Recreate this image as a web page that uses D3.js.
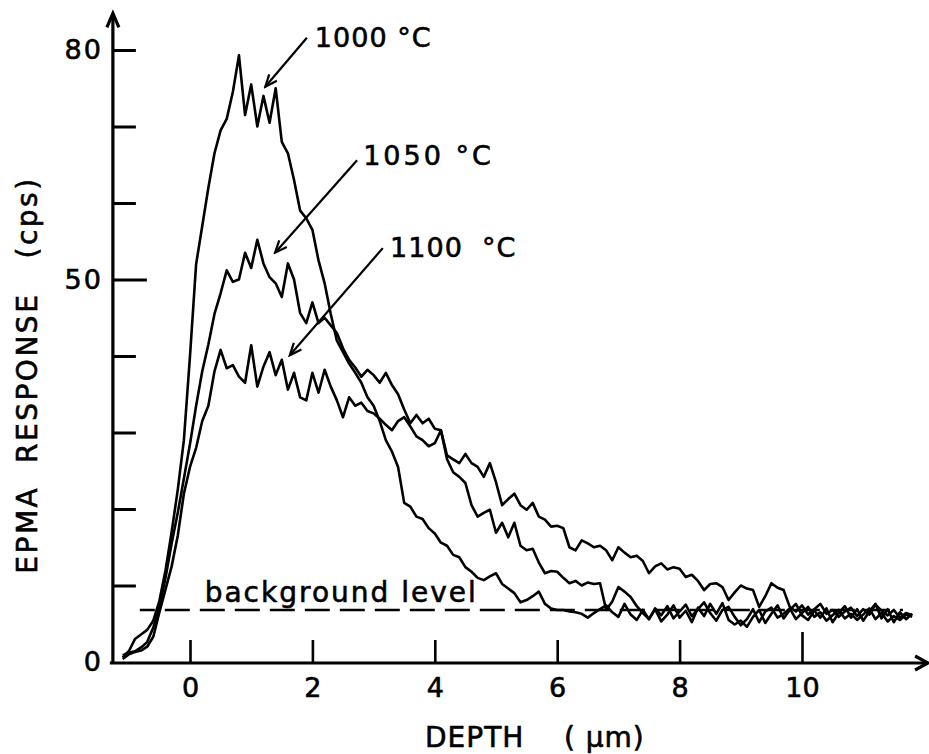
<!DOCTYPE html>
<html>
<head>
<meta charset="utf-8">
<script src="https://cdn.jsdelivr.net/npm/d3@7"></script>
<style>
  body { margin: 0; background: #fff; }
  svg text { font-family: "DejaVu Sans", sans-serif; fill: #000; stroke: #000; stroke-width: 0.6; }
  .axis-line { stroke: #000; stroke-width: 3.2; fill: none; }
  .curve { stroke: #000; stroke-width: 2.6; fill: none; stroke-linejoin: round; }
</style>
</head>
<body>
<div id="chart"></div>
<script>
// depth (um), sampled every 0.1
const depth = [
  -1.1, -1.0, -0.9, -0.8, -0.7, -0.6, -0.5, -0.4, -0.3, -0.2, -0.1,
  0.0, 0.1, 0.2, 0.3, 0.4, 0.5, 0.6, 0.7, 0.8, 0.9,
  1.0, 1.1, 1.2, 1.3, 1.4, 1.5, 1.6, 1.7, 1.8, 1.9,
  2.0, 2.1, 2.2, 2.3, 2.4, 2.5, 2.6, 2.7, 2.8, 2.9,
  3.0, 3.1, 3.2, 3.3, 3.4, 3.5, 3.6, 3.7, 3.8, 3.9,
  4.0, 4.1, 4.2, 4.3, 4.4, 4.5, 4.6, 4.7, 4.8, 4.9,
  5.0, 5.1, 5.2, 5.3, 5.4, 5.5, 5.6, 5.7, 5.8, 5.9,
  6.0, 6.1, 6.2, 6.3, 6.4, 6.5, 6.6, 6.7, 6.8, 6.9,
  7.0, 7.1, 7.2, 7.3, 7.4, 7.5, 7.6, 7.7, 7.8, 7.9,
  8.0, 8.1, 8.2, 8.3, 8.4, 8.5, 8.6, 8.7, 8.8, 8.9,
  9.0, 9.1, 9.2, 9.3, 9.4, 9.5, 9.6, 9.7, 9.8, 9.9,
  10.0, 10.1, 10.2, 10.3, 10.4, 10.5, 10.6, 10.7, 10.8, 10.9,
  11.0, 11.1, 11.2, 11.3, 11.4, 11.5, 11.6, 11.7, 11.8
];

// EPMA response (cps)
const resp1000 = [
  0.6, 1.4, 3.0, 3.6, 4.2, 5.4, 8.0, 12.0, 17.0, 22.5, 29.0,
  40.0, 52.0, 57.0, 62.0, 66.5, 69.5, 71.0, 74.5, 79.3, 71.5,
  75.5, 70.0, 74.0, 70.5, 75.0, 68.0, 66.5, 63.0, 59.0, 58.0,
  56.5, 52.5, 49.5, 45.5, 42.0, 40.5, 39.0, 37.8, 36.5, 34.6,
  33.5, 31.5, 29.0, 27.5, 25.5, 20.8, 20.3, 19.0, 18.7, 17.5,
  16.8, 15.6, 15.2, 14.0, 13.7, 12.4, 11.8, 11.0, 10.7, 11.2,
  11.6, 10.2, 9.6, 9.0, 7.8, 8.1, 8.6, 9.2, 7.6, 7.0,
  6.8, 6.8, 6.6, 6.5, 6.3, 5.8, 6.4, 6.9, 7.4, 6.5,
  5.9, 7.6, 6.2, 5.5, 6.8, 5.6, 7.0, 6.1, 7.3, 5.7,
  6.6, 7.5, 6.0, 6.9, 7.8, 6.4, 5.4, 6.8, 7.2, 5.9,
  4.8, 5.6, 6.9, 5.2, 6.6, 7.1, 5.8, 6.3, 7.0, 5.6,
  6.4, 7.2, 5.9, 6.5, 5.4, 6.1, 6.8, 5.7, 6.3, 5.5,
  6.2, 7.0, 5.6, 6.4, 5.3, 6.0, 5.5, 6.2, 5.9
];
const resp1050 = [
  0.9, 1.2, 1.4, 1.9, 2.6, 4.5, 7.2, 11.0, 15.5, 19.5, 24.0,
  28.5, 33.5, 38.0, 41.5, 45.5, 48.2, 51.2, 49.7, 50.0, 53.5,
  51.5, 55.2, 52.1, 50.3, 49.5, 47.7, 52.1, 50.0, 45.6, 44.3,
  47.0, 44.3, 45.0, 44.0, 43.0, 41.0, 39.5, 38.5, 37.3, 38.2,
  37.5, 36.5, 37.8, 36.2, 35.0, 33.0, 31.2, 32.3, 31.2, 31.8,
  30.5, 30.3, 27.0, 26.5, 26.0, 27.2, 26.0, 25.5, 24.2, 26.0,
  23.5, 20.5, 21.3, 22.0, 20.5, 19.9, 20.8, 19.0, 18.6, 17.7,
  17.8, 17.5, 15.0, 14.6, 15.9, 15.5, 15.0, 15.2, 14.6, 13.3,
  15.0, 14.3, 13.7, 13.9, 13.2, 11.6, 12.5, 12.9, 12.1, 12.4,
  12.2, 11.1, 11.4, 10.6, 9.4, 10.2, 10.3, 9.8, 8.1, 9.1,
  10.0, 9.6, 9.4, 7.2, 8.6, 10.3, 9.7, 9.4, 7.2, 6.6,
  7.4, 6.2, 6.9, 7.6, 6.3, 6.8, 5.9, 6.6, 7.1, 6.0,
  6.9, 6.2, 7.5, 6.7, 6.1, 6.8, 5.8, 6.4, 6.1
];
const resp1100 = [
  0.4, 1.0, 1.3, 1.5, 2.0, 3.3, 6.5, 9.5, 12.5, 16.5, 22.0,
  25.5, 28.0, 31.5, 33.5, 38.0, 40.8, 38.4, 38.8, 37.3, 36.5,
  41.4, 36.0, 38.6, 40.5, 37.5, 39.5, 35.6, 37.8, 34.6, 34.2,
  37.8, 35.2, 38.2, 36.0, 34.2, 32.0, 34.6, 33.5, 33.9, 32.8,
  32.5, 31.8, 31.0, 30.3, 31.5, 32.0, 30.8, 29.5, 29.0, 28.2,
  28.6, 30.3, 26.5, 24.8, 24.2, 23.4, 20.5, 19.0, 19.5, 19.9,
  16.9, 18.2, 16.3, 18.2, 15.2, 14.6, 14.8, 13.0, 11.6, 11.9,
  11.8, 11.0, 10.3, 10.6, 10.0, 10.4, 10.2, 10.3, 6.8, 7.9,
  9.8, 9.2, 8.5, 7.3, 6.4, 5.6, 6.9, 5.3, 6.2, 7.4,
  5.8, 6.7, 5.2, 7.1, 6.0, 7.6, 6.3, 7.7, 5.5, 4.9,
  5.4, 4.6, 5.9, 6.8, 5.1, 6.3, 7.4, 5.7, 6.8, 7.6,
  6.1, 5.5, 6.7, 5.8, 7.0, 5.2, 6.4, 7.3, 5.8, 6.9,
  5.4, 6.6, 7.6, 5.7, 6.9, 5.2, 6.5, 5.6, 6.3
];

const backgroundLevel = 6.8;
const xTicks = [0, 2, 4, 6, 8, 10];
const yTicks = [0, 10, 20, 30, 40, 50, 60, 70, 80];
const yLabelled = [0, 50, 80];

// annotation: label, text anchor (depth, cps), arrow start, arrow tip
const notes = [
  { label: "1000 °C", tx: 2.04, ty: 80.4, x1: 1.91, y1: 81.6, x2: 1.23, y2: 75.2, ls: 1 },
  { label: "1050 °C", tx: 2.83, ty: 65.0, x1: 2.73, y1: 65.6, x2: 1.39, y2: 53.5, ls: 3 },
  { label: "1100  °C", tx: 3.27, ty: 52.9, x1: 3.15, y1: 54.1, x2: 1.63, y2: 40.1, ls: 1 }
];

const width = 929, height = 754;
const svg = d3.select("#chart").append("svg")
  .attr("width", width).attr("height", height);

const x = d3.scaleLinear().domain([0, 10]).range([190, 802]);
const y = d3.scaleLinear().domain([0, 80]).range([662, 50]);

// arrow marker for the labels
svg.append("defs").append("marker")
  .attr("id", "arr")
  .attr("markerUnits", "userSpaceOnUse")
  .attr("viewBox", "-14 -7 16 14")
  .attr("markerWidth", 16).attr("markerHeight", 14)
  .attr("refX", 0).attr("refY", 0)
  .attr("orient", "auto")
  .append("path")
  .attr("d", "M-12,-5L0,0L-12,5")
  .attr("fill", "none").attr("stroke", "#000").attr("stroke-width", 2.2);

// axes lines with arrowheads
const x0 = x(-1.31), xEnd = x(12.06), yTop = y(84.8);
svg.append("path").attr("class", "axis-line")
  .attr("d", `M${x(-1.26)},${y(0) + 1}V${yTop}`);
svg.append("path").attr("class", "axis-line")
  .attr("d", `M${x(-1.26) - 6},${yTop + 14}L${x(-1.26)},${yTop}L${x(-1.26) + 6},${yTop + 14}`);
svg.append("path").attr("class", "axis-line")
  .attr("d", `M${x0},${y(0) + 1}H${xEnd}`);
svg.append("path").attr("class", "axis-line")
  .attr("d", `M${xEnd - 13},${y(0) - 6}L${xEnd},${y(0) + 1}L${xEnd - 13},${y(0) + 8}`);

// y axis ticks (pointing inward)
const gy = svg.append("g").attr("transform", `translate(${x(-1.26)},0)`)
  .call(d3.axisLeft(y).tickValues(yTicks).tickSize(-23).tickPadding(10)
    .tickFormat(d => yLabelled.includes(d) ? d : ""));
gy.select(".domain").remove();
gy.selectAll(".tick line").attr("stroke", "#000").attr("stroke-width", 3)
  .attr("x2", d => d === 50 ? 34 : (d === 0 ? 0 : 23));
gy.selectAll(".tick text").attr("font-size", 27).attr("letter-spacing", 2)
  .attr("font-family", "DejaVu Sans").attr("dy", "0.32em");

// x axis ticks (pointing inward)
const gx = svg.append("g").attr("transform", `translate(0,${y(0) + 1})`)
  .call(d3.axisBottom(x).tickValues(xTicks).tickSize(-23).tickPadding(15));
gx.select(".domain").remove();
gx.selectAll(".tick line").attr("stroke", "#000").attr("stroke-width", 2.6)
  .attr("y2", d => d === 10 ? -31 : -23);
gx.selectAll(".tick text").attr("font-size", 27).attr("font-family", "DejaVu Sans");

// background level
svg.append("line")
  .attr("x1", x(-0.82)).attr("x2", x(11.65))
  .attr("y1", y(backgroundLevel)).attr("y2", y(backgroundLevel))
  .attr("stroke", "#000").attr("stroke-width", 2.6)
  .attr("stroke-dasharray", "25,10").attr("stroke-dashoffset", 10);
svg.append("text")
  .attr("x", x(0.24)).attr("y", y(7.85))
  .attr("font-size", 28).attr("letter-spacing", 2)
  .text("background level");

// curves
const line = d3.line().x((d, i) => x(depth[i])).y(d => y(d));
[resp1000, resp1050, resp1100].forEach(s => {
  svg.append("path").attr("class", "curve").attr("d", line(s));
});

// labels with arrows
notes.forEach(n => {
  svg.append("line")
    .attr("x1", x(n.x1)).attr("y1", y(n.y1))
    .attr("x2", x(n.x2)).attr("y2", y(n.y2))
    .attr("stroke", "#000").attr("stroke-width", 2.2)
    .attr("marker-end", "url(#arr)");
  svg.append("text")
    .attr("x", x(n.tx)).attr("y", y(n.ty))
    .attr("font-size", 27).attr("letter-spacing", n.ls)
    .style("white-space", "pre")
    .text(n.label);
});

// axis titles
svg.append("text")
  .attr("transform", "translate(37,375) rotate(-90)")
  .attr("text-anchor", "middle")
  .attr("font-size", 28).attr("letter-spacing", 2.5)
  .style("white-space", "pre")
  .text("EPMA  RESPONSE   (cps)");
svg.append("text")
  .attr("x", 425).attr("y", 747)
  .attr("font-size", 28).attr("letter-spacing", 1)
  .style("white-space", "pre")
  .text("DEPTH    ( μm)");
</script>
</body>
</html>
